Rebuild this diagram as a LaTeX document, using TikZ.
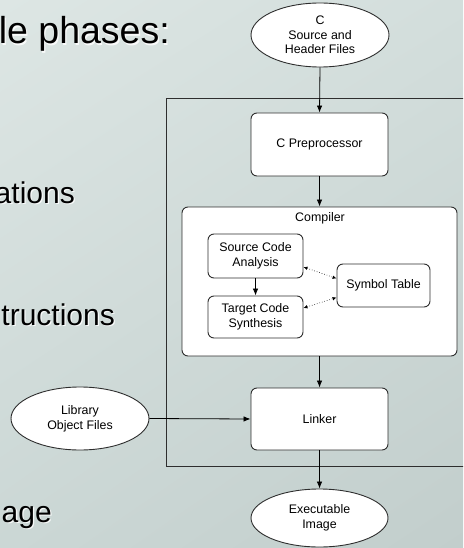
\documentclass[tikz,border=0pt]{standalone}
\usepackage{fontspec}
\setmainfont{Liberation Sans}
\usetikzlibrary{shapes.geometric,arrows.meta,shadings}
\definecolor{bgUL}{HTML}{DDE6E4}
\definecolor{bgUR}{HTML}{D3DEDC}
\definecolor{bgLL}{HTML}{CBD7D5}
\definecolor{bgLR}{HTML}{C2CECC}
\definecolor{linec}{HTML}{2E2E2E}
\newcommand{\smallfnt}{\fontsize{12.4}{14.6}\selectfont}
\newcommand{\bigfnt}{\fontsize{37.5}{42}\selectfont}
\newcommand{\midfnt}{\fontsize{30}{34}\selectfont}
\begin{document}
\begin{tikzpicture}[x=1pt,y=-1pt,
  box/.style={draw=linec, fill=white, rounded corners=6pt, line width=0.9pt, align=center, font=\smallfnt, inner sep=0pt},
  ell/.style={ellipse, draw=linec, fill=white, line width=0.9pt, align=center, font=\smallfnt, inner sep=0pt},
  arr/.style={-{Latex[length=7pt,width=5.5pt]}, line width=0.8pt, draw=black},
  dotarr/.style={{Latex[length=4pt,width=3.5pt]}-{Latex[length=4pt,width=3.5pt]}, dotted, line width=0.6pt},
  glow/.style={text=white, opacity=0.85, inner sep=0pt},
  bigtxt/.style={inner sep=0pt, text=black}
]
\useasboundingbox (0,0) rectangle (463,548);
\clip (0,0) rectangle (463,548);
\shade[upper left=bgUL, upper right=bgUR, lower left=bgLL, lower right=bgLR] (0,0) rectangle (463,548);

% bullet text fragments
\node[glow, anchor=base east, font=\bigfnt] (t1g) at (171.3,45.3) {le phases:};
\node[bigtxt, anchor=base east, font=\bigfnt] (t1) at (170,44) {le phases:};
\node[glow, anchor=base east, font=\midfnt] (t2g) at (76.3,204.3) {ations};
\node[bigtxt, anchor=base east, font=\midfnt] (t2) at (75,203) {ations};
\node[glow, anchor=base east, font=\midfnt] (t3g) at (116.3,326.3) {tructions};
\node[bigtxt, anchor=base east, font=\midfnt] (t3) at (115,325) {tructions};
\node[glow, anchor=base east, font=\midfnt] (t4g) at (53.3,523.3) {age};
\node[bigtxt, anchor=base east, font=\midfnt] (t4) at (52,522) {age};

% outer frame
\draw[draw=linec, line width=0.9pt] (166,98) rectangle (480,466);

% nodes
\node[ell, minimum width=138pt, minimum height=64pt] (src) at (320,35) {C\\Source and\\Header Files};
\node[box, minimum width=137pt, minimum height=63pt] (pre) at (319.5,144.5) {C Preprocessor};
\node[box, minimum width=275pt, minimum height=149pt] (comp) at (319.5,281.5) {};
\node[font=\smallfnt, inner sep=0pt] (complbl) at (320,218) {Compiler};
\node[box, minimum width=95pt, minimum height=44pt] (sca) at (255.5,256) {Source Code\\Analysis};
\node[box, minimum width=95pt, minimum height=42pt] (tcs) at (255.5,317) {Target Code\\Synthesis};
\node[box, minimum width=93pt, minimum height=43pt] (sym) at (383.5,285.5) {Symbol Table};
\node[box, minimum width=137pt, minimum height=62pt] (link) at (319.5,419) {Linker};
\node[ell, minimum width=137pt, minimum height=58pt] (exe) at (319.5,518) {Executable\\Image};
\node[ell, minimum width=138pt, minimum height=63pt] (lib) at (80,418.5) {Library\\Object Files};

% connectors
\draw[arr] (src.south) -- (pre.north);
\draw[arr] (pre.south) -- (comp.north);
\draw[arr] (comp.south) -- (link.north);
\draw[arr] (link.south) -- (exe.north);
\draw[arr] (lib.east) -- (link.west);
\draw[arr] (sca.south) -- (tcs.north);
\draw[dotarr] ([yshift=-11pt]sca.east) -- ([yshift=7pt]sym.west);
\draw[dotarr] ([yshift=9pt]tcs.east) -- ([yshift=-12pt]sym.west);
\end{tikzpicture}
\end{document}
